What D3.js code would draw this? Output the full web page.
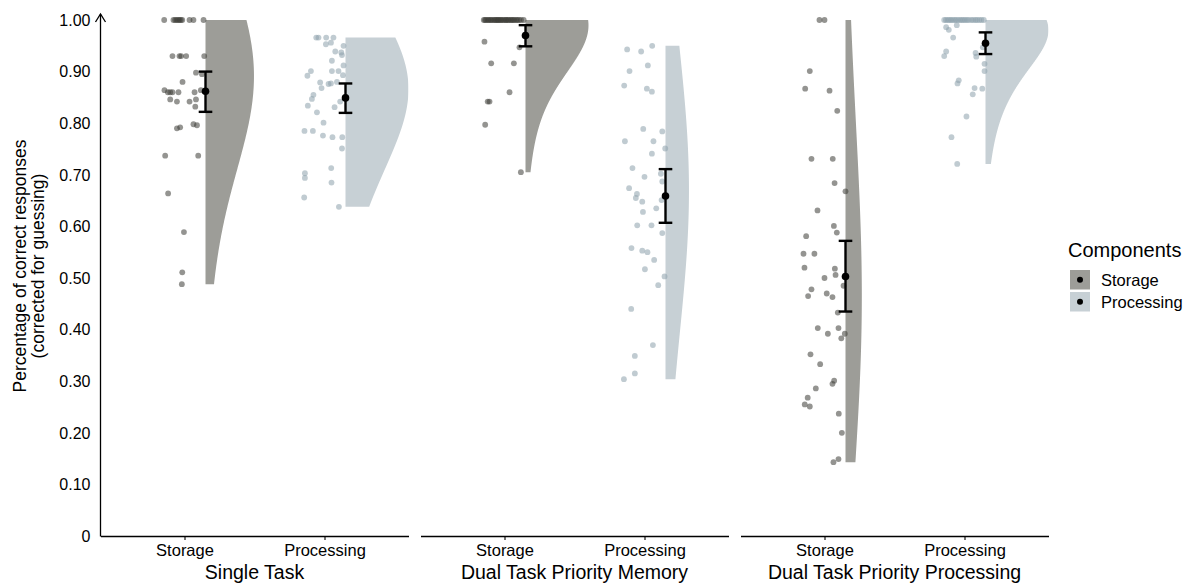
<!DOCTYPE html>
<html><head><meta charset="utf-8">
<script src="https://cdn.jsdelivr.net/npm/d3@7"></script>
<style>
html,body{margin:0;padding:0;background:#fff;}
text{font-family:"Liberation Sans",Arial,Helvetica,sans-serif;fill:#000;}
</style></head>
<body><svg id="chart" width="1186" height="583"></svg>
<script>
// ---------------- DATA ----------------
const panels = ["Single Task", "Dual Task Priority Memory", "Dual Task Priority Processing"];
const components = ["Storage", "Processing"];
const yTicks = [0, 0.1, 0.2, 0.3, 0.4, 0.5, 0.6, 0.7, 0.8, 0.9, 1.0];

// Single Task - Storage
const stStorage = [1,1,1,1,1,1,1,1,1,1,1, .93,.93,.93,.93,.93, .898,.895, .88, .864,.86,.86,.86,.86,.86,.864, .846,.842,.842,.846, .832, .79,.792,.798,.796, .737,.737, .664, .589, .511, .488];
const stStorageJit = [-.145,-.079,-.067,-.056,-.045,-.036,-.026,-.016,.036,.064,.136, -.086,-.036,-.024,.012,.141, .082,.125, -.014, -.143,-.119,-.102,-.086,-.043,.072,.117, -.102,-.054,.036,.082, .077, -.054,-.031,.064,.089, -.138,.098, -.117, -.004, -.016, -.019];
// Single Task - Processing
const stProcessing = [.966,.966,.966,.966,.953,.956,.95,.939,.937,.932,.921,.912,.901,.892,.901,.901,.893,.879,.876,.877,.88,.868,.855,.847,.842,.831,.834,.821,.801,.785,.785,.776,.773,.773,.751,.713,.703,.694,.685,.656,.638];
const stProcessingJit = [-.059,-.043,.012,.064,.01,.046,.136,.077,.12,.125,.053,.136,-.097,-.122,.053,.1,.132,-.031,.029,.046,.089,-.021,-.079,-.09,.112,.072,-.119,-.054,-.007,-.143,-.083,-.011,.057,.127,.125,.048,-.14,-.14,.05,-.145,.103];
// Dual Task Priority Memory - Storage
const dmStorage = [1,1,1,1,1,1,1,1,1,1,1,1,1,1,1,1,1,1,1,1,1,1,1,1,1,1,1,1,1,1, .958,.947,.916,.916,.86,.842,.842,.797,.705];
const dmStorageJit = [-.148,-.139,-.131,-.118,-.112,-.1,-.093,-.081,-.072,-.063,-.055,-.047,-.041,-.03,-.024,-.013,-.004,.008,.013,.024,.031,.043,.052,.061,.07,.083,.092,.104,.118,.137, -.143,.107,-.095,.067,.036,-.12,-.107,-.138,.117];
// Dual Task Priority Memory - Processing
const dmProcessing = [.943,.939,.95,.901,.912,.873,.867,.861,.789,.784,.765,.765,.751,.741,.713,.696,.702,.687,.674,.663,.655,.648,.651,.635,.628,.602,.602,.587,.558,.553,.55,.535,.517,.503,.486,.44,.37,.349,.315,.304];
const dmProcessingJit = [-.124,-.024,.055,-.107,.024,-.145,.017,.053,-.009,.127,-.14,.064,.148,.053,-.086,0,.117,.127,-.11,-.054,-.062,-.016,.122,.084,-.011,-.052,.05,.127,-.093,-.016,.021,.069,.003,.143,.098,-.095,.06,-.069,-.069,-.147];
// Dual Task Priority Processing - Storage
const dpStorage = [1,1,.901,.867,.863,.824,.731,.731,.684,.668,.631,.601,.588,.581,.547,.547,.52,.518,.506,.5,.485,.478,.465,.47,.463,.433,.403,.392,.403,.392,.383,.352,.333,.301,.295,.286,.268,.255,.251,.237,.2,.143,.149];
const dpStorageJit = [-.036,0,-.105,-.138,.036,.091,-.093,.059,.072,.15,-.05,.067,.088,-.131,-.15,-.072,-.143,.074,.079,0,.136,-.093,-.117,.016,.057,.095,-.048,.024,.1,.145,.12,-.1,-.031,.069,.057,-.062,-.12,-.141,-.105,.102,.124,.064,.1];
// Dual Task Priority Processing - Processing
const dpProcessing = [1,1,1,1,1,1,1,1,1,1,1,1,1,1,1,1,1,1,1,1,1,1, .986,.981,.99,.966,.939,.93,.936,.929,.947,.915,.901,.883,.877,.868,.867,.856,.813,.773,.721];
const dpProcessingJit = [-.145,-.133,-.12,-.108,-.097,-.085,-.071,-.06,-.046,-.032,-.02,-.008,.004,.017,.03,.048,.062,.078,.09,.106,.121,.138, -.131,-.112,-.055,-.081,-.131,-.145,.079,.084,.131,.143,.143,-.041,-.05,.072,.127,.059,.014,-.093,-.052];

// Means and confidence intervals per panel [Storage, Processing]
const meanValues = [[0.862, 0.849], [0.970, 0.659], [0.503, 0.955]];
const ciLower    = [[0.822, 0.820], [0.949, 0.607], [0.435, 0.934]];
const ciUpper    = [[0.900, 0.877], [0.990, 0.711], [0.572, 0.976]];

const legendTitle = "Components";
const yTitle = ["Percentage of correct responses", "(corrected for guessing)"];

// ---------------- BUILD ----------------
const groupValues = [[stStorage, stProcessing], [dmStorage, dmProcessing], [dpStorage, dpProcessing]];
const groupJitter = [[stStorageJit, stProcessingJit], [dmStorageJit, dmProcessingJit], [dpStorageJit, dpProcessingJit]];

const fills = ["#9d9d98", "#c7d0d5"];
const pointCols = ["rgb(60,60,55)", "rgb(140,160,172)"];
const bwAdjust = 3;

const svg = d3.select("#chart");
const W = 308, gap = 12, left0 = 100.5, yTop = 20, yBot = 536;
const y = d3.scaleLinear().domain([0, 1]).range([yBot, yTop]);

function kde(values) {
  const n = values.length;
  const s = values.slice().sort(d3.ascending);
  const sd = d3.deviation(s);
  const iqr = d3.quantileSorted(s, 0.75) - d3.quantileSorted(s, 0.25);
  let lo = Math.min(sd, iqr / 1.34);
  if (!(lo > 0)) lo = sd || Math.abs(s[0]) || 1;
  const bw = bwAdjust * 0.9 * lo * Math.pow(n, -0.2);
  const mn = s[0], mx = s[n - 1];
  const grid = d3.range(512).map(i => mn + (mx - mn) * i / 511);
  const g = u => Math.exp(-0.5 * u * u) / Math.sqrt(2 * Math.PI);
  return grid.map(v => ({ v, d: d3.sum(s, xi => g((v - xi) / bw)) / (n * bw) }));
}

panels.forEach((pName, pi) => {
  const x0 = left0 + pi * (W + gap);
  const x = d3.scalePoint().domain(components).range([x0, x0 + W]).padding(0.6);
  const step = x.step();
  const g = svg.append("g");

  const clipId = "clip" + pi;
  svg.append("clipPath").attr("id", clipId).append("rect")
    .attr("x", x0).attr("y", 0).attr("width", W).attr("height", yBot + 1);

  const dens = components.map((c, ci) => kde(groupValues[pi][ci]));
  const maxD = d3.max(dens.flat(), d => d.d);

  // violins
  components.forEach((c, ci) => {
    const base = x(c) + 0.15 * step;
    const area = d3.area()
      .y(d => y(d.v))
      .x0(base)
      .x1(d => base + (d.d / maxD) * 0.45 * step);
    g.append("path").datum(dens[ci]).attr("d", area)
      .attr("fill", fills[ci]).attr("clip-path", `url(#${clipId})`);
  });

  // points
  components.forEach((c, ci) => {
    const vals = groupValues[pi][ci], jit = groupJitter[pi][ci];
    g.selectAll(null).data(vals.map((v, i) => ({ v, j: jit[i] }))).enter()
      .append("circle")
      .attr("cx", d => x(c) + d.j * step)
      .attr("cy", d => y(d.v))
      .attr("r", 2.9)
      .attr("fill", pointCols[ci])
      .attr("fill-opacity", 0.55);
  });

  // error bars + means
  components.forEach((c, ci) => {
    const cx = x(c) + 0.15 * step;
    const lo = ciLower[pi][ci], hi = ciUpper[pi][ci], m = meanValues[pi][ci];
    const eb = g.append("g").attr("stroke", "#000").attr("stroke-width", 2.4).attr("fill", "none");
    eb.append("line").attr("x1", cx).attr("x2", cx).attr("y1", y(lo)).attr("y2", y(hi));
    eb.append("line").attr("x1", cx - 6.8).attr("x2", cx + 6.8).attr("y1", y(lo)).attr("y2", y(lo));
    eb.append("line").attr("x1", cx - 6.8).attr("x2", cx + 6.8).attr("y1", y(hi)).attr("y2", y(hi));
    g.append("circle").attr("cx", cx).attr("cy", y(m)).attr("r", 3.8).attr("fill", "#000");
  });

  // x axis
  const ax = svg.append("g").attr("transform", `translate(0,${yBot})`)
    .call(d3.axisBottom(x).tickSize(4).tickPadding(4).tickSizeOuter(0));
  ax.select(".domain").attr("stroke", "#000").attr("stroke-width", 1.3);
  ax.selectAll(".tick line").attr("stroke", "#000").attr("stroke-width", 1.1);
  ax.selectAll(".tick text").attr("font-size", "16.5px").attr("fill", "#000")
    .attr("font-family", '"Liberation Sans",Arial,sans-serif');

  // strip label
  svg.append("text").attr("x", x0 + W / 2).attr("y", 579)
    .attr("text-anchor", "middle").attr("font-size", "19.5px").text(pName);
});

// y axis with arrow
svg.append("line").attr("x1", left0).attr("x2", left0).attr("y1", yBot + 0.6).attr("y2", 14)
  .attr("stroke", "#000").attr("stroke-width", 1.3);
svg.append("path").attr("d", `M${left0 - 5},${22} L${left0},${14} L${left0 + 5},${22}`)
  .attr("fill", "none").attr("stroke", "#000").attr("stroke-width", 1.3);

svg.append("g").selectAll("text").data(yTicks).enter().append("text")
  .attr("x", left0 - 10).attr("y", d => y(d)).attr("dy", "0.36em")
  .attr("text-anchor", "end").attr("font-size", "16px")
  .text(d => d === 0 ? "0" : d3.format(".2f")(d));

// y title
const yMid = 266;
yTitle.forEach((t, i) => {
  svg.append("text").attr("transform", `translate(${26 + i * 18},${yMid}) rotate(-90)`)
    .attr("text-anchor", "middle").attr("font-size", "17.5px").text(t);
});

// legend
const lg = svg.append("g");
lg.append("text").attr("x", 1068).attr("y", 257).attr("font-size", "20px").text(legendTitle);
components.forEach((c, ci) => {
  const ky = 270 + ci * 22;
  lg.append("rect").attr("x", 1070).attr("y", ky).attr("width", 20).attr("height", 19.5).attr("fill", fills[ci]);
  lg.append("circle").attr("cx", 1080).attr("cy", ky + 9.75).attr("r", 3).attr("fill", "#000");
  lg.append("text").attr("x", 1101).attr("y", ky + 9.75).attr("dy", "0.36em").attr("font-size", "16.5px").text(c);
});
</script>
</body></html>
